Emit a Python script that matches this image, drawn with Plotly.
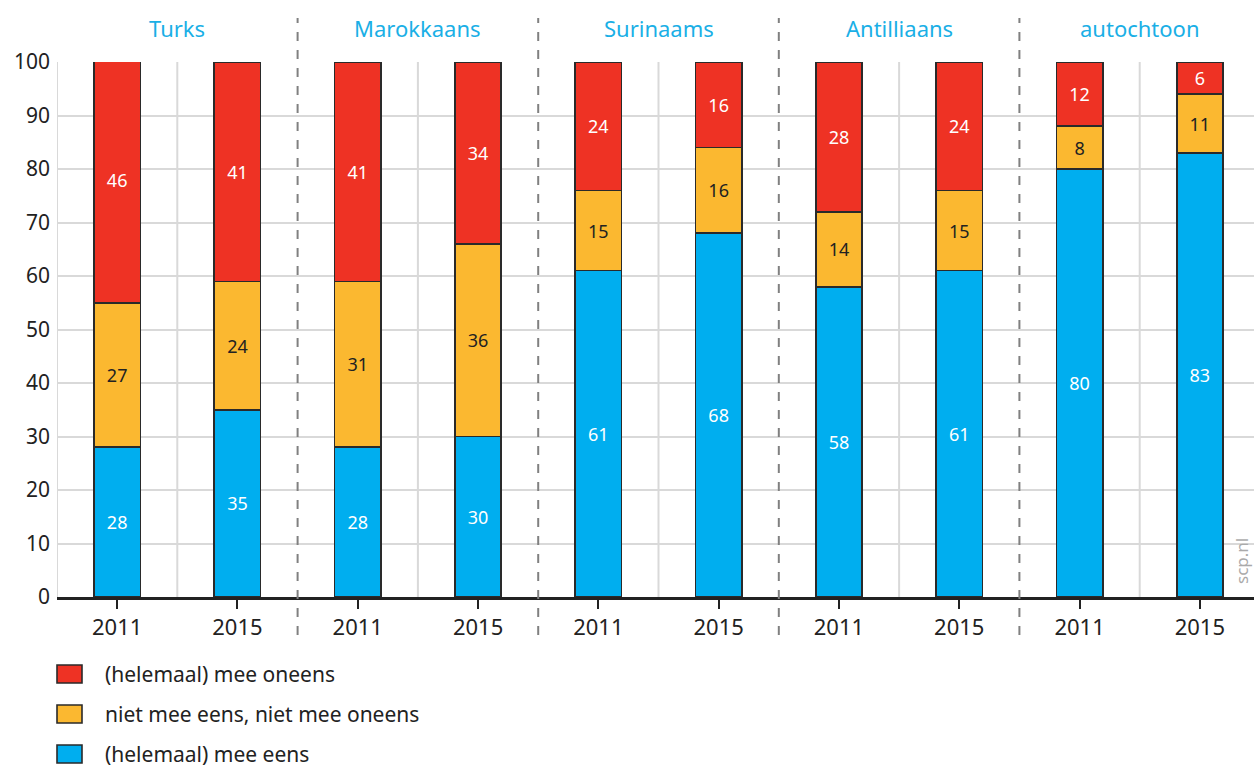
import plotly.graph_objects as go

# Survey answers (percentages) per origin group, 2011 vs 2015
groups = ["Turks", "Marokkaans", "Surinaams", "Antilliaans", "autochtoon"]
years = ["2011", "2015"]
eens = [28, 35, 28, 30, 61, 68, 58, 61, 80, 83]          # (helemaal) mee eens
neutraal = [27, 24, 31, 36, 15, 16, 14, 15, 8, 11]       # niet mee eens, niet mee oneens
oneens = [46, 41, 41, 34, 24, 16, 28, 24, 12, 6]         # (helemaal) mee oneens

series_names = ["(helemaal) mee eens", "niet mee eens, niet mee oneens", "(helemaal) mee oneens"]
colors = ["#00AEEF", "#FBB830", "#EE3224"]
text_colors = ["white", "#222222", "white"]

FONT = "Noto Sans"
W, H = 1254, 767
M_L, M_R, M_T, M_B = 57, 0, 62, 170
plot_w = W - M_L - M_R
plot_h = H - M_T - M_B


def px_x(px):
    """Horizontal pixel -> paper fraction."""
    return (px - M_L) / plot_w


def px_y(py):
    """Vertical pixel (from top) -> paper fraction."""
    return (H - M_B - py) / plot_h


x = list(range(len(eens)))
ticktext = [years[i % 2] for i in x]

fig = go.Figure()
for vals, name, col, tc in zip([eens, neutraal, oneens], series_names, colors, text_colors):
    fig.add_trace(go.Bar(
        x=x, y=vals, name=name,
        marker=dict(color=col, line=dict(color="#2a2a2a", width=1.6)),
        width=0.385,
        text=[str(v) for v in vals],
        textposition="inside", insidetextanchor="middle",
        constraintext="none",
        textfont=dict(family=FONT, size=18, color=tc),
        showlegend=False, hoverinfo="name+y",
    ))

shapes = []
# light vertical grid lines inside each group and at the left edge
for xv in [-0.5] + [2 * g + 0.5 for g in range(len(groups))]:
    shapes.append(dict(type="line", xref="x", yref="y", x0=xv, x1=xv, y0=0, y1=100,
                       line=dict(color="#d9d9d9", width=2), layer="below"))
# dashed separators between groups
for g in range(1, len(groups)):
    xv = 2 * g - 0.5
    shapes.append(dict(type="line", xref="x", yref="paper", x0=xv, x1=xv,
                       y0=px_y(635), y1=px_y(18),
                       line=dict(color="#808080", width=2, dash="dash"), layer="above"))

annotations = []
for g, name in enumerate(groups):
    annotations.append(dict(x=2 * g + 0.5, y=px_y(28), xref="x", yref="paper",
                            xanchor="center", yanchor="middle",
                            text=name, showarrow=False,
                            font=dict(family=FONT, size=22, color="#1AAFE6")))
annotations.append(dict(x=px_x(1241), y=px_y(561), xref="paper", yref="paper", text="scp.nl",
                        xanchor="center", yanchor="middle",
                        showarrow=False, textangle=-90, borderpad=0,
                        font=dict(family=FONT, size=17, color="#aaaaaa")))

# legend drawn as swatches with labels (top to bottom: oneens, neutraal, eens)
legend_rows = list(zip(reversed(series_names), reversed(colors)))
row_y = [674, 714, 754]
for (name, col), yc in zip(legend_rows, row_y):
    shapes.append(dict(type="rect", xref="paper", yref="paper",
                       x0=px_x(57), x1=px_x(82),
                       y0=px_y(yc + 9), y1=px_y(yc - 9),
                       fillcolor=col, line=dict(color="#2a2a2a", width=1.6)))
    annotations.append(dict(x=px_x(103), y=px_y(yc),
                            xref="paper", yref="paper", xanchor="left", yanchor="middle",
                            text=name, showarrow=False,
                            font=dict(family=FONT, size=21, color="#222222")))

fig.update_layout(
    width=W, height=H,
    margin=dict(l=M_L, r=M_R, t=M_T, b=M_B, pad=0),
    barmode="stack",
    plot_bgcolor="white", paper_bgcolor="white",
    font=dict(family=FONT, color="#222222"),
    shapes=shapes, annotations=annotations,
    xaxis=dict(range=[-0.5, 9.45], tickmode="array", tickvals=x, ticktext=ticktext,
               ticks="outside", ticklen=9, tickwidth=2, tickcolor="#222222",
               showgrid=False, showline=True, linecolor="#222222", linewidth=2.5,
               tickfont=dict(family=FONT, size=22, color="#222222"), fixedrange=True),
    yaxis=dict(range=[0, 100], tickmode="linear", dtick=10, showgrid=True,
               gridcolor="#d9d9d9", gridwidth=2, zeroline=False, showline=False,
               ticks="", ticklabelstandoff=6,
               tickfont=dict(family=FONT, size=21, color="#222222"),
               fixedrange=True),
)

fig.write_html("out.html")
